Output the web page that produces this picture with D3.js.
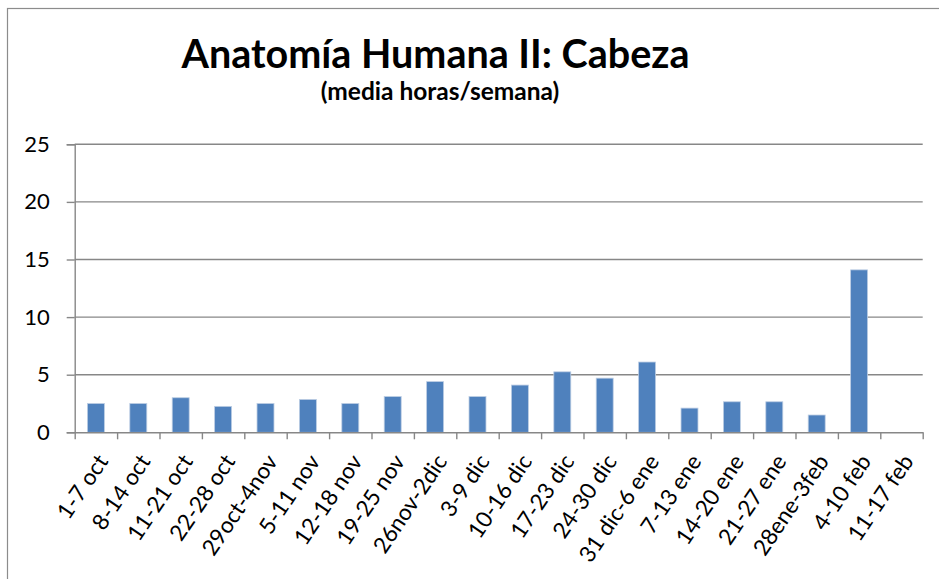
<!DOCTYPE html>
<html>
<head>
<meta charset="utf-8">
<script src="https://cdn.jsdelivr.net/npm/d3@7"></script>
<style>
  body { margin: 0; background: #fff; }
  svg { display: block; }
  text { font-family: Lato, "DejaVu Sans", sans-serif; fill: #000; }
</style>
</head>
<body>
<div id="chart"></div>
<script>
// weekly periods (x axis)
var weeks = ['1-7 oct', '8-14 oct', '11-21 oct', '22-28 oct', '29oct-4nov',
             '5-11 nov', '12-18 nov', '19-25 nov', '26nov-2dic', '3-9 dic',
             '10-16 dic', '17-23 dic', '24-30 dic', '31 dic-6 ene', '7-13 ene',
             '14-20 ene', '21-27 ene', '28ene-3feb', '4-10 feb', '11-17 feb'];

// mean hours per week
var hours = [2.5, 2.5, 3.0, 2.25, 2.5, 2.85, 2.5, 3.1, 4.4, 3.1,
             4.1, 5.25, 4.7, 6.1, 2.1, 2.65, 2.65, 1.5, 14.1, 0];

var yTicks = [0, 5, 10, 15, 20, 25];

var width = 939;
var height = 579;
var left = 74.7;
var right = 922.7;
var top_y = 144.3;
var bottom_y = 432.3;

var svg = d3.select('#chart').append('svg')
            .attr('width', width)
            .attr('height', height);

// chart frame
svg.append('rect')
   .attr('x', 7.5).attr('y', 8.5)
   .attr('width', 1000).attr('height', 1000)
   .attr('fill', 'none')
   .attr('stroke', '#8c8c8c')
   .attr('stroke-width', 1.2);

var x = d3.scaleBand()
          .domain(weeks)
          .range([left, right])
          .paddingInner(0.6)
          .paddingOuter(0.3);

var xEdge = d3.scaleLinear()
              .domain([0, weeks.length])
              .range([left, right]);

var y = d3.scaleLinear()
          .domain([0, 25])
          .range([bottom_y, top_y]);

// gridlines
svg.selectAll('line.grid')
   .data(yTicks.slice(1))
   .enter()
   .append('line')
   .attr('class', 'grid')
   .attr('x1', left)
   .attr('x2', right)
   .attr('y1', function(d){return y(d);})
   .attr('y2', function(d){return y(d);})
   .attr('stroke', '#878787')
   .attr('stroke-width', 1.4);

// bars
svg.selectAll('rect.bar')
   .data(hours)
   .enter()
   .append('rect')
   .attr('class', 'bar')
   .attr('x', function(d, i){return x(weeks[i]);})
   .attr('width', x.bandwidth())
   .attr('y', function(d){return y(d);})
   .attr('height', function(d){return bottom_y - y(d);})
   .attr('fill', '#4f81bd')
   .attr('stroke', function(d){return d > 0 ? '#bccde3' : 'none';})
   .attr('stroke-width', 0.8);

// y axis
var yAxis = svg.append('g')
               .attr('transform', 'translate(' + left + ',0)')
               .call(d3.axisLeft(y).tickValues(yTicks).tickSize(8).tickPadding(17));
yAxis.select('.domain').attr('stroke', '#878787').attr('stroke-width', 1.4);
yAxis.selectAll('.tick line').attr('stroke', '#878787').attr('stroke-width', 1.4);
yAxis.selectAll('.tick text')
     .attr('font-family', 'Lato, sans-serif')
     .attr('font-size', 22)
     .attr('fill', '#000');

// x axis (ticks between categories)
var xAxis = svg.append('g')
               .attr('transform', 'translate(0,' + bottom_y + ')')
               .call(d3.axisBottom(xEdge).tickValues(d3.range(weeks.length + 1))
                                         .tickSize(7).tickSizeOuter(0)
                                         .tickFormat(''));
xAxis.select('.domain').attr('stroke', '#878787').attr('stroke-width', 1.4);
xAxis.selectAll('.tick line').attr('stroke', '#878787').attr('stroke-width', 1.4);

// x labels
svg.selectAll('text.xlab')
   .data(weeks)
   .enter()
   .append('text')
   .attr('class', 'xlab')
   .text(function(d){return d;})
   .attr('text-anchor', 'end')
   .attr('font-size', 22.5)
   .attr('transform', function(d){
       return 'translate(' + (x(d) + x.bandwidth() / 2 + 13) + ',' + (bottom_y + 29) + ') rotate(-56)';
   });

// titles
svg.append('text')
   .text('Anatomía Humana II: Cabeza')
   .attr('x', 435.5)
   .attr('y', 68)
   .attr('text-anchor', 'middle')
   .attr('font-weight', 'bold')
   .attr('font-size', 39.5);

svg.append('text')
   .text('(media horas/semana)')
   .attr('x', 440)
   .attr('y', 100)
   .attr('text-anchor', 'middle')
   .attr('font-weight', 'bold')
   .attr('font-size', 24.5);
</script>
</body>
</html>
